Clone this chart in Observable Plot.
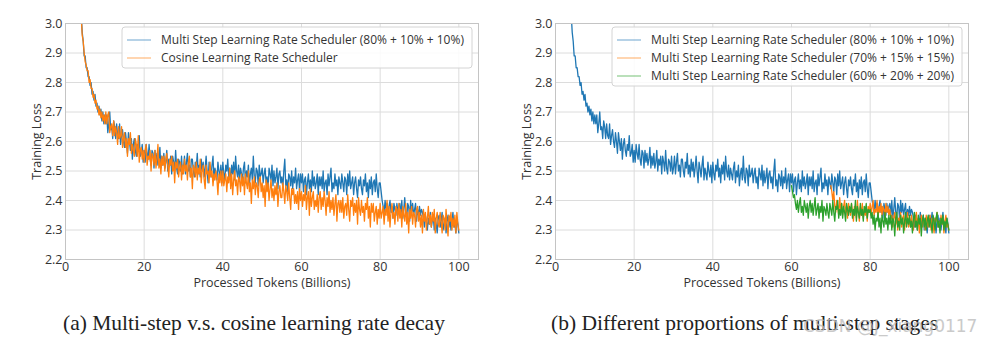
<!DOCTYPE html>
<html><head><meta charset="utf-8">
<script src="https://cdn.jsdelivr.net/npm/d3@7"></script>
<script src="https://cdn.jsdelivr.net/npm/@observablehq/plot@0.6"></script>
<style>
body{margin:0;background:#fff;}
#wrap{position:relative;width:986px;height:348px;overflow:hidden;background:#fff;}
.panel{position:absolute;top:0;}
.cap{position:absolute;top:311px;font-family:"Liberation Serif",serif;font-size:21.5px;color:#222;white-space:nowrap;}
.wm{position:absolute;top:316px;left:803px;font-family:"DejaVu Sans",sans-serif;font-size:17px;color:#bdbdbd;white-space:nowrap;opacity:0.8;}
</style></head><body>
<div id="wrap"></div>
<script>
// Values are read every 0.25 billion tokens; each inner block covers 5 billion tokens
// (the first block of the 80% and cosine runs starts at 4, the last block is the point at 100).
const step = 0.25;
const xTicks = [0, 20, 40, 60, 80, 100];
const yTicks = [2.2, 2.3, 2.4, 2.5, 2.6, 2.7, 2.8, 2.9, 3.0];

// Multi step 80% + 10% + 10%
const multi80Starts = [4, 5, 10, 15, 20, 25, 30, 35, 40, 45, 50, 55, 60, 65, 70, 75, 80, 85, 90, 95, 100];
const multi80 = [
 [3.03,2.97,2.94,2.89],
 [2.89,2.85,2.85,2.82,2.82,2.79,2.80,2.76,2.77,2.74,2.76,2.72,2.73,2.70,2.72,2.69,2.71,2.67,2.70,2.66],
 [2.69,2.66,2.69,2.63,2.66,2.70,2.64,2.65,2.61,2.67,2.65,2.61,2.66,2.62,2.61,2.66,2.59,2.62,2.64,2.60],
 [2.58,2.63,2.60,2.56,2.63,2.60,2.57,2.61,2.54,2.59,2.61,2.57,2.55,2.59,2.57,2.62,2.55,2.56,2.59,2.53],
 [2.57,2.53,2.59,2.56,2.54,2.59,2.54,2.52,2.57,2.56,2.51,2.57,2.53,2.56,2.52,2.54,2.58,2.51,2.55,2.52],
 [2.56,2.51,2.53,2.57,2.50,2.54,2.52,2.55,2.49,2.55,2.53,2.50,2.57,2.51,2.49,2.54,2.53,2.50,2.55,2.49],
 [2.51,2.55,2.49,2.53,2.56,2.50,2.52,2.48,2.54,2.54,2.50,2.48,2.53,2.51,2.56,2.49,2.52,2.48,2.54,2.50],
 [2.53,2.48,2.51,2.55,2.50,2.46,2.53,2.51,2.48,2.52,2.55,2.47,2.51,2.49,2.47,2.53,2.50,2.48,2.52,2.46],
 [2.53,2.49,2.47,2.52,2.50,2.54,2.48,2.51,2.46,2.52,2.49,2.53,2.47,2.55,2.50,2.48,2.52,2.47,2.51,2.49],
 [2.47,2.51,2.53,2.46,2.50,2.48,2.52,2.45,2.49,2.51,2.47,2.55,2.48,2.46,2.51,2.50,2.45,2.52,2.48,2.49],
 [2.51,2.46,2.49,2.51,2.46,2.48,2.44,2.51,2.49,2.47,2.52,2.45,2.50,2.46,2.48,2.51,2.44,2.49,2.50,2.46],
 [2.48,2.44,2.50,2.54,2.45,2.47,2.43,2.49,2.48,2.45,2.50,2.44,2.48,2.46,2.51,2.44,2.47,2.49,2.43,2.49],
 [2.46,2.49,2.43,2.47,2.48,2.42,2.46,2.49,2.44,2.47,2.43,2.50,2.45,2.48,2.44,2.46,2.49,2.42,2.48,2.45],
 [2.48,2.44,2.50,2.43,2.46,2.47,2.42,2.49,2.45,2.48,2.51,2.43,2.46,2.44,2.49,2.45,2.47,2.42,2.48,2.46],
 [2.44,2.49,2.46,2.43,2.48,2.47,2.42,2.49,2.45,2.50,2.44,2.46,2.48,2.42,2.46,2.48,2.44,2.41,2.47,2.45],
 [2.48,2.44,2.42,2.47,2.45,2.49,2.43,2.46,2.41,2.47,2.44,2.48,2.42,2.46,2.47,2.43,2.49,2.44,2.41,2.46],
 [2.46,2.43,2.40,2.38,2.36,2.40,2.37,2.39,2.35,2.38,2.40,2.36,2.38,2.34,2.39,2.37,2.35,2.39,2.36,2.38],
 [2.39,2.35,2.40,2.34,2.37,2.41,2.36,2.34,2.39,2.38,2.33,2.40,2.36,2.39,2.35,2.37,2.39,2.33,2.37,2.35],
 [2.38,2.35,2.37,2.36,2.34,2.31,2.35,2.33,2.30,2.34,2.32,2.36,2.31,2.33,2.35,2.30,2.34,2.32,2.29,2.34],
 [2.35,2.31,2.33,2.36,2.30,2.32,2.34,2.29,2.33,2.35,2.31,2.34,2.30,2.33,2.36,2.31,2.32,2.29,2.34,2.32],
 [2.29]
];

// Cosine schedule
const cosineStarts = [4, 5, 10, 15, 20, 25, 30, 35, 40, 45, 50, 55, 60, 65, 70, 75, 80, 85, 90, 95, 100];
const cosine = [
 [3.02,2.96,2.94,2.90],
 [2.87,2.86,2.84,2.84,2.80,2.81,2.78,2.78,2.75,2.76,2.73,2.74,2.71,2.72,2.69,2.71,2.68,2.70,2.67,2.69],
 [2.66,2.70,2.66,2.69,2.70,2.63,2.65,2.66,2.62,2.67,2.62,2.65,2.63,2.59,2.65,2.61,2.62,2.65,2.58,2.61],
 [2.63,2.58,2.61,2.55,2.61,2.59,2.63,2.56,2.59,2.57,2.55,2.61,2.59,2.55,2.62,2.53,2.57,2.58,2.54,2.57],
 [2.53,2.57,2.59,2.52,2.55,2.54,2.57,2.50,2.56,2.55,2.52,2.57,2.51,2.54,2.59,2.51,2.54,2.49,2.55,2.52],
 [2.55,2.50,2.54,2.56,2.52,2.48,2.54,2.52,2.55,2.50,2.53,2.46,2.53,2.51,2.54,2.48,2.51,2.53,2.47,2.52],
 [2.49,2.54,2.50,2.52,2.47,2.53,2.55,2.48,2.51,2.44,2.52,2.51,2.48,2.53,2.47,2.51,2.49,2.54,2.46,2.50],
 [2.52,2.47,2.44,2.52,2.49,2.50,2.46,2.53,2.48,2.50,2.45,2.49,2.47,2.50,2.47,2.42,2.49,2.46,2.50,2.45],
 [2.50,2.45,2.47,2.49,2.43,2.48,2.46,2.51,2.44,2.49,2.42,2.47,2.50,2.45,2.47,2.42,2.48,2.47,2.43,2.49],
 [2.45,2.48,2.42,2.49,2.46,2.44,2.50,2.43,2.46,2.39,2.47,2.44,2.48,2.42,2.46,2.45,2.41,2.47,2.48,2.43],
 [2.46,2.41,2.45,2.38,2.47,2.43,2.46,2.40,2.44,2.47,2.41,2.44,2.40,2.45,2.42,2.46,2.38,2.43,2.45,2.41],
 [2.41,2.46,2.43,2.39,2.45,2.43,2.40,2.46,2.41,2.37,2.44,2.42,2.44,2.39,2.42,2.39,2.43,2.37,2.44,2.40],
 [2.43,2.38,2.42,2.40,2.45,2.37,2.41,2.43,2.35,2.44,2.38,2.41,2.43,2.37,2.40,2.38,2.42,2.36,2.41,2.43],
 [2.37,2.41,2.38,2.43,2.40,2.35,2.41,2.38,2.43,2.36,2.40,2.37,2.41,2.35,2.39,2.42,2.33,2.39,2.40,2.36],
 [2.40,2.36,2.41,2.34,2.38,2.39,2.35,2.42,2.37,2.33,2.40,2.38,2.41,2.35,2.39,2.36,2.40,2.32,2.41,2.37],
 [2.35,2.40,2.36,2.38,2.33,2.39,2.37,2.41,2.34,2.38,2.31,2.39,2.36,2.39,2.33,2.36,2.38,2.32,2.37,2.34],
 [2.39,2.34,2.36,2.38,2.32,2.37,2.35,2.40,2.33,2.38,2.31,2.36,2.39,2.34,2.36,2.32,2.38,2.37,2.33,2.39],
 [2.34,2.37,2.31,2.38,2.35,2.33,2.39,2.32,2.36,2.29,2.37,2.34,2.38,2.32,2.36,2.35,2.31,2.37,2.38,2.33],
 [2.36,2.31,2.35,2.29,2.37,2.33,2.36,2.30,2.34,2.38,2.32,2.35,2.31,2.36,2.33,2.37,2.29,2.34,2.36,2.32],
 [2.31,2.36,2.33,2.29,2.35,2.34,2.30,2.37,2.32,2.28,2.35,2.33,2.36,2.30,2.34,2.31,2.35,2.29,2.36,2.32],
 [2.30]
];

// Multi step 70% + 15% + 15% (identical to the 80% run before 70)
const multi70Starts = [70, 75, 80, 85, 90, 95, 100];
const multi70 = [
 [2.45,2.43,2.40,2.43,2.38,2.36,2.40,2.38,2.35,2.41,2.37,2.39,2.35,2.38,2.40,2.36,2.38,2.34,2.39,2.37],
 [2.35,2.39,2.36,2.33,2.38,2.37,2.34,2.40,2.36,2.33,2.38,2.35,2.39,2.34,2.37,2.35,2.38,2.33,2.38,2.36],
 [2.39,2.35,2.38,2.40,2.35,2.37,2.36,2.40,2.34,2.38,2.36,2.39,2.35,2.38,2.37,2.34,2.39,2.36,2.38,2.35],
 [2.37,2.34,2.35,2.31,2.34,2.36,2.32,2.35,2.30,2.34,2.33,2.36,2.31,2.34,2.35,2.30,2.34,2.32,2.36,2.31],
 [2.34,2.31,2.35,2.32,2.30,2.34,2.33,2.36,2.31,2.34,2.29,2.33,2.35,2.31,2.34,2.32,2.30,2.35,2.33,2.31],
 [2.33,2.35,2.30,2.34,2.32,2.29,2.34,2.33,2.36,2.31,2.33,2.30,2.35,2.32,2.34,2.29,2.33,2.35,2.31,2.32],
 [2.30]
];

// Multi step 60% + 20% + 20% (identical to the 80% run before 60)
const multi60Starts = [60, 65, 70, 75, 80, 85, 90, 95, 100];
const multi60 = [
 [2.45,2.43,2.41,2.42,2.39,2.37,2.40,2.36,2.39,2.41,2.36,2.38,2.35,2.40,2.38,2.36,2.39,2.34,2.38,2.40],
 [2.36,2.39,2.35,2.38,2.41,2.35,2.37,2.39,2.34,2.38,2.36,2.40,2.33,2.38,2.37,2.35,2.39,2.36,2.34,2.39],
 [2.37,2.35,2.40,2.36,2.33,2.38,2.37,2.40,2.34,2.37,2.35,2.39,2.34,2.38,2.36,2.33,2.39,2.37,2.35,2.38],
 [2.36,2.39,2.34,2.37,2.35,2.40,2.33,2.38,2.36,2.34,2.39,2.35,2.37,2.33,2.38,2.36,2.39,2.34,2.37,2.36],
 [2.37,2.34,2.36,2.32,2.35,2.30,2.34,2.33,2.36,2.31,2.34,2.29,2.35,2.33,2.31,2.36,2.32,2.34,2.30,2.35],
 [2.32,2.35,2.30,2.34,2.33,2.28,2.34,2.36,2.31,2.33,2.30,2.35,2.32,2.34,2.29,2.33,2.36,2.31,2.34,2.32],
 [2.35,2.31,2.33,2.29,2.34,2.36,2.31,2.33,2.30,2.35,2.32,2.34,2.28,2.33,2.35,2.31,2.34,2.30,2.33,2.35],
 [2.31,2.34,2.32,2.29,2.35,2.33,2.30,2.34,2.36,2.31,2.33,2.29,2.34,2.32,2.35,2.30,2.33,2.31,2.34,2.32],
 [2.30]
];

const legendA = ["Multi Step Learning Rate Scheduler (80% + 10% + 10%)", "Cosine Learning Rate Scheduler"];
const legendB = ["Multi Step Learning Rate Scheduler (80% + 10% + 10%)", "Multi Step Learning Rate Scheduler (70% + 15% + 15%)", "Multi Step Learning Rate Scheduler (60% + 20% + 20%)"];
const captions = ["(a) Multi-step v.s. cosine learning rate decay", "(b) Different proportions of multi-step stages"];
const colors = ["#1f77b4", "#ff7f0e", "#2ca02c"];

const toRows = (starts, blocks) => blocks.flatMap((b, k) => b.map((y, i) => ({x: starts[k] + i * step, y})));

const FONT = "'Open Sans', 'DejaVu Sans', sans-serif";

function panel(series, labels, width, left) {
  const svg = Plot.plot({
    width, height: 295,
    marginLeft: 65, marginRight: width - 478, marginTop: 23, marginBottom: 36,
    x: {domain: [0, 105]},
    y: {domain: [2.2, 3.0]},
    style: {fontFamily: FONT, fontSize: "12.5px", color: "#333", background: "transparent"},
    marks: [
      Plot.gridX(xTicks, {stroke: "#dcdcdc", strokeOpacity: 1}),
      Plot.gridY(yTicks, {stroke: "#dcdcdc", strokeOpacity: 1}),
      ...series.map(s => Plot.line(s.rows, {x: "x", y: "y", stroke: s.color, strokeWidth: 1.3, clip: true})),
      Plot.frame({stroke: "#c4c4c4"}),
      Plot.axisX(xTicks, {tickSize: 0, tickPadding: 3, label: "Processed Tokens (Billions)", labelAnchor: "center", labelArrow: "none", labelOffset: 27}),
      Plot.axisY(yTicks, {tickSize: 0, tickPadding: 3, tickFormat: d3.format(".1f"), label: "Training Loss", labelAnchor: "center", labelArrow: "none", labelOffset: 33})
    ]
  });
  // legend box
  const g = d3.select(svg).append("g");
  const bx = 122, by = 27, bw = 350, rowH = 18;
  g.append("rect").attr("x", bx).attr("y", by).attr("width", bw).attr("height", 13 + rowH * (labels.length - 1) + 10)
    .attr("rx", 3).attr("fill", "#fff").attr("fill-opacity", 0.85).attr("stroke", "#d4d4d4");
  labels.forEach((lab, i) => {
    const cy = by + 13 + i * rowH;
    g.append("line").attr("x1", bx + 5).attr("x2", bx + 29).attr("y1", cy).attr("y2", cy)
      .attr("stroke", colors[i]).attr("stroke-width", 1.2).attr("stroke-opacity", 0.55);
    g.append("text").attr("x", bx + 39).attr("y", cy).attr("dy", "0.35em").attr("text-anchor", "start")
      .attr("font-family", FONT).attr("font-size", "12px").attr("fill", "#333").text(lab);
  });
  const div = document.createElement("div");
  div.className = "panel";
  div.style.left = left + "px";
  div.appendChild(svg);
  document.getElementById("wrap").appendChild(div);
}

panel([
  {rows: toRows(multi80Starts, multi80), color: colors[0]},
  {rows: toRows(cosineStarts, cosine), color: colors[1]}
], legendA, 493, 0);

panel([
  {rows: toRows(multi80Starts, multi80), color: colors[0]},
  {rows: toRows(multi70Starts, multi70), color: colors[1]},
  {rows: toRows(multi60Starts, multi60), color: colors[2]}
], legendB, 496, 490);

const wrap = document.getElementById("wrap");
[[63, captions[0]], [551, captions[1]]].forEach(([l, t]) => {
  const d = document.createElement("div");
  d.className = "cap"; d.style.left = l + "px"; d.textContent = t;
  wrap.appendChild(d);
});
const wm = document.createElement("div");
wm.className = "wm"; wm.textContent = "CSDN @J_xiang0117";
wrap.appendChild(wm);
</script>
</body></html>
